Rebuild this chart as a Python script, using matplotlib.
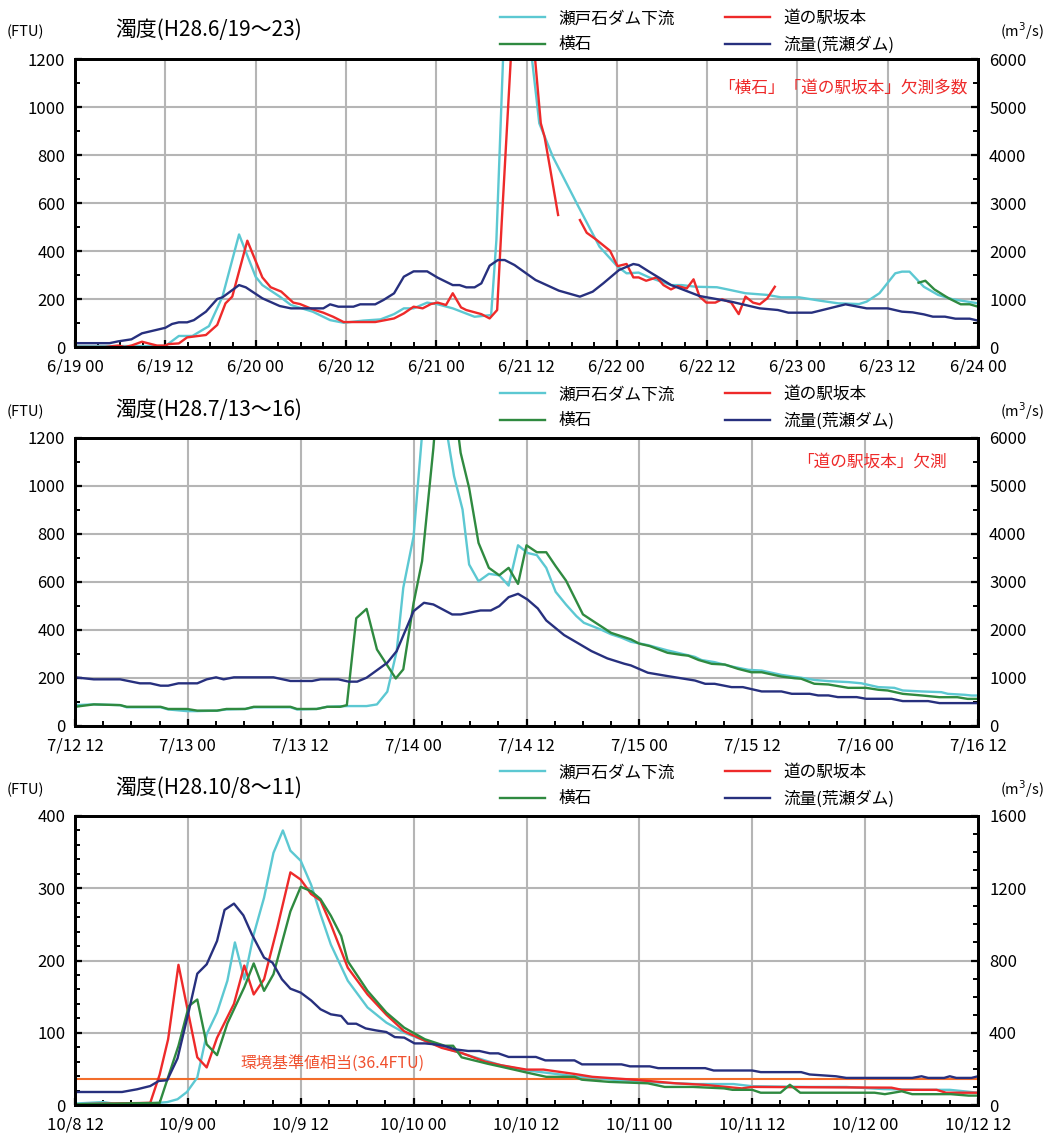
import numpy as np
import matplotlib
matplotlib.use('Agg')
import matplotlib.pyplot as plt
from matplotlib.lines import Line2D
from matplotlib.ticker import MultipleLocator, FixedLocator
from matplotlib import font_manager

# ---------------- data ----------------
nan = np.nan
# Panel 1 : H28.6/19-23 (hours from 6/19 00)
p1_xlabels = ["6/19 00", "6/19 12", "6/20 00", "6/20 12", "6/21 00", "6/21 12",
              "6/22 00", "6/22 12", "6/23 00", "6/23 12", "6/24 00"]
p1_flow_h = [0, 4.6, 5.75, 7.5, 8.9, 12, 12.9, 13.8, 14.9, 15.8, 17.4, 18.9, 19.6, 21.8, 22.7, 24.9,
             27.2, 28.7, 33, 33.9, 35, 37, 37.9, 39.9, 41, 42.4, 43.7, 45, 46.8, 48.2, 50.2, 51.1,
             52, 53.1, 54, 55.1, 56.2, 57.1, 58.4, 61.2, 64.3, 67.1, 68.8, 70.2, 72.3, 74.2, 74.9,
             76.3, 79.2, 83, 87.2, 91, 93.4, 94.8, 97.9, 102.4, 105.2, 108, 109.9, 111.3, 112.8,
             114, 115.6, 117, 118.9, 120]
p1_flow = [80, 80, 118, 160, 285, 400, 480, 514, 514, 560, 736, 1000, 1035, 1290, 1243, 1014,
           854, 805, 805, 889, 840, 840, 889, 889, 980, 1118, 1465, 1576, 1576, 1444, 1290, 1290,
           1243, 1243, 1326, 1694, 1812, 1812, 1708, 1396, 1174, 1049, 1153, 1326, 1604, 1729, 1708,
           1569, 1292, 1062, 944, 805, 771, 715, 715, 889, 805, 805, 736, 722, 680,
           632, 632, 590, 590, 549]
p1_cyan_h = [0, 12, 13.8, 15.6, 17.8, 19.6, 21.8, 24, 24.9, 27.2, 28.7, 31.6, 33.9, 35.7, 38.3,
             40.6, 42.4, 43.7, 45, 46.8, 48.2, 50.2, 53.1, 55.3, 56, 57, 58, 59, 60, 61.7, 63.5,
             66.9, 69.7, 72.1, 73.3, 74.9, 76.3, 79.2, 80.6, 82.5, 85.3, 86.7, 89.1, 92, 93.8,
             96.2, 99, 101.4, 104.2, 105.2, 106.9, 109, 109.9, 110.9, 112.8, 114.7, 116.6, 120]
p1_cyan = [4, 4, 46, 46, 87, 210, 469, 293, 258, 210, 175, 147, 112, 101, 110,
           115, 137, 161, 161, 185, 178, 161, 126, 133, 446, 1300, 1800, 1700, 1400, 932, 793,
           585, 418, 335, 307, 310, 290, 258, 258, 251, 249, 240, 224, 217, 207,
           207, 193, 182, 179, 189, 224, 307, 314, 314, 251, 217, 199, 182]
p1_red_h = [0, 4, 5.75, 6.6, 7.5, 8.9, 10.9, 12, 12.4, 13.8, 14.9, 17.4, 18.9, 20, 20.9, 22.9,
            24.9, 26, 27.4, 29, 29.9, 31.6, 33, 34.3, 35.7, 39.9, 42.4, 43.7, 45, 46.2, 47.3,
            48.2, 49.3, 50.2, 51.3, 52, 54, 55.1, 56.1, 56.7, 58, 59, 60, 61, 61.9, 62.4, 63.1,
            64.2, 65.5, 67.1, 68, 69.2, 71.1, 72.1, 73.3, 74.2, 74.9, 75.9, 77.3, 78.2, 79.2,
            80.1, 81.3, 82.2, 83, 83.9, 85.1, 86, 87.2, 88.2, 89.1, 90.1, 91, 92, 93]
p1_red = [0, 0, 6, 0, 6, 22, 6, 6, 12, 15, 40, 50, 92, 182, 210, 443,
          290, 249, 231, 185, 179, 157, 143, 126, 104, 104, 119, 140, 168, 161, 179,
          185, 175, 224, 165, 154, 137, 119, 154, 515, 1250, 1700, 1600, 1250, 932, 876, 751,
          550, nan, 529, 476, 449, 401, 337, 346, 290, 290, 276, 290, 258, 240,
          254, 244, 282, 210, 185, 185, 199, 185, 137, 210, 185, 178, 203, 251]
p1_green_h = [112.1, 113, 114.2, 116.1, 117.7, 118.9, 120]
p1_green = [268, 276, 240, 203, 178, 178, 168]

# Panel 2 : H28.7/13-16 (hours from 7/12 12)
p2_xlabels = ["7/12 12", "7/13 00", "7/13 12", "7/14 00", "7/14 12",
              "7/15 00", "7/15 12", "7/16 00", "7/16 12"]
p2_flow_h = [0, 2, 4.8, 6.9, 8, 9.1, 9.9, 11, 13, 14, 15, 15.8, 16.9, 21.1, 22.9, 25.2, 26.1, 28,
             29.1, 30, 31, 33.2, 34.2, 36, 37.1, 38.1, 40.1, 41, 43.1, 44.2, 45.1, 46.1, 47.1,
             48.1, 49.2, 50.1, 52, 53.4, 54.9, 56.6, 58.4, 59.1, 60.9, 63, 65.9, 67, 68, 69.8,
             71, 73, 75.1, 76.2, 78.1, 79, 80.1, 81.1, 83.1, 84.1, 86.8, 88, 90.7, 91.9, 96]
p2_flow = [1014, 972, 972, 889, 889, 840, 840, 889, 889, 972, 1014, 972, 1014, 1014, 938, 938, 972,
           972, 924, 924, 1006, 1318, 1561, 2393, 2567, 2532, 2324, 2324, 2407, 2407, 2497, 2684,
           2754, 2636, 2449, 2199, 1894, 1734, 1561, 1408, 1297, 1262, 1110, 1040, 948, 879, 879,
           810, 810, 720, 720, 671, 671, 637, 637, 602, 602, 567, 567, 519, 519, 477, 477]
p2_cyan_h = [0, 2, 4.8, 5.5, 9.1, 9.9, 11.9, 13, 15.1, 16.1, 18.1, 19, 22.9, 23.6, 25.7, 26.8,
             28.9, 31, 32.1, 33.2, 34.2, 34.9, 36, 37.5, 39, 40.3, 41.2, 41.9, 42.9, 44, 45.1,
             46.1, 47.1, 48.1, 49.1, 50.1, 51.1, 52.2, 53.3, 54.1, 55.9, 57, 58.1, 59.1, 60.9,
             63, 64.5, 65.9, 66.6, 68, 69.8, 71.6, 73, 75.1, 77.2, 78.6, 80.1, 82.2, 83.6, 85.4,
             87.1, 88, 90, 92.1, 92.8, 94.6, 95.3, 96]
p2_cyan = [87, 90, 87, 78, 78, 69, 62, 62, 64, 69, 71, 78, 78, 69, 71, 80,
           83, 83, 90, 143, 312, 576, 791, 1500, 1350, 1041, 902, 673, 603, 634, 628,
           585, 753, 721, 712, 659, 559, 506, 458, 430, 402, 382, 368, 351, 337,
           315, 301, 288, 275, 266, 248, 234, 231, 213, 201, 192, 187, 183, 178, 162,
           159, 148, 144, 141, 134, 130, 127, 127]
p2_green_h = [0, 2, 4.8, 5.5, 9.1, 9.9, 11.9, 13, 15.1, 16.1, 18.1, 19, 22.9, 23.6, 25.7, 26.8,
              28.2, 28.9, 29.9, 31, 32.1, 34.1, 34.9, 36, 36.9, 38.1, 39, 40, 41, 41.9, 42.9,
              44, 45.1, 46.1, 47.1, 48, 49.1, 50.1, 51.1, 52.2, 54, 55.2, 57, 59.1, 60, 61.1,
              63, 64.5, 65.2, 66.3, 67.7, 69.1, 70.5, 71.9, 73, 75.1, 76.5, 77.2, 78.6, 80.1,
              82.2, 84.1, 85.4, 86.4, 88, 89.2, 90.1, 91.9, 93.8, 94.9, 96]
p2_green = [80, 90, 87, 80, 80, 71, 71, 64, 64, 71, 71, 80, 80, 71, 71, 80,
            80, 87, 449, 488, 319, 198, 236, 513, 687, 1158, 1600, 1450, 1138, 992, 763,
            659, 628, 659, 592, 753, 724, 724, 666, 606, 465, 434, 388, 361, 343, 333,
            305, 296, 293, 275, 259, 256, 238, 224, 224, 206, 199, 197, 176, 173,
            159, 159, 151, 148, 134, 130, 127, 120, 120, 113, 113]

# Panel 3 : H28.10/8-11 (hours from 10/8 12)
p3_xlabels = ["10/8 12", "10/9 00", "10/9 12", "10/10 00", "10/10 12",
              "10/11 00", "10/11 12", "10/12 00", "10/12 12"]
p3_flow_h = [0, 5, 6.6, 8, 8.9, 9.8, 10.9, 12.1, 13, 14, 15.1, 15.9, 16.9, 17.9, 18.8, 20.1, 21,
             22, 22.9, 24, 25.1, 26.1, 27.2, 28.3, 29, 29.9, 30.9, 32, 33.1, 34, 35, 36.1, 37.2,
             38.2, 39.3, 40.4, 41.8, 43, 44.1, 45, 46.1, 49, 50, 53.1, 53.9, 58.1, 59, 61.1, 62,
             67, 67.9, 72, 72.9, 77.2, 78.1, 80.9, 82, 89, 90, 90.7, 92.4, 93, 93.7, 95.3, 96]
p3_flow = [72, 72, 87, 105, 133, 137, 258, 520, 727, 779, 908, 1080, 1115, 1050, 945, 816, 788,
           696, 644, 622, 579, 530, 502, 493, 450, 450, 424, 413, 404, 376, 373, 341, 341,
           336, 327, 308, 299, 299, 286, 286, 266, 266, 247, 247, 225, 225, 214, 214, 204,
           204, 191, 191, 182, 182, 169, 159, 150, 150, 159, 150, 150, 159, 150, 150, 159]
p3_cyan_h = [0, 3, 4.1, 8, 9.8, 10.9, 11.9, 13, 14, 15.1, 16.2, 17, 18, 19, 20.1, 21.1, 22.1,
             22.9, 24, 25.1, 26.1, 27.2, 29, 31.1, 33.1, 35, 36, 39, 42, 45.3, 48, 53, 58, 62,
             66, 70, 72, 78, 82, 86, 90, 93, 96]
p3_cyan = [2, 4, 2, 2, 4, 8, 18, 38, 98, 128, 172, 225, 174, 236, 287, 349, 380,
           352, 338, 305, 264, 222, 172, 135, 114, 100, 95, 80, 68, 55, 48, 40, 34, 31,
           29, 29, 26, 25, 25, 22, 21, 21, 17]
p3_red_h = [0, 8, 9, 9.9, 11, 13, 14, 15.1, 16.9, 18, 19, 20.1, 21.5, 22.9, 24, 25.1, 26.1, 27.2,
            29, 31.1, 33.1, 35, 37.2, 39, 41.1, 43.6, 45.3, 48, 49.8, 53.1, 55, 59.4, 63.9, 66.8,
            70.9, 72, 86.8, 87.9, 91.6, 92.6, 96]
p3_red = [1, 3, 42, 91, 194, 66, 52, 93, 140, 193, 153, 174, 245, 322, 312, 292, 283, 250,
          190, 153, 125, 102, 89, 79, 72, 60, 55, 49, 49, 43, 39, 35, 30, 28,
          23, 25, 24, 21, 21, 17, 17]
p3_green_h = [0, 9, 11, 12.1, 13, 14, 15.1, 16.2, 18, 19, 20.1, 21.1, 22.9, 24, 25.1, 26.1, 27.2,
              28.3, 29, 31.1, 33.1, 35, 37.2, 39.3, 40.2, 41.1, 43.9, 45.3, 48, 50.1, 53.1, 53.9,
              56.8, 60.9, 62.7, 65.7, 69, 69.9, 72, 72.9, 75, 76, 77.1, 85, 86.1, 87.9, 89, 93.1,
              95, 96]
p3_green = [1, 3, 82, 137, 146, 84, 69, 113, 163, 196, 158, 181, 268, 302, 296, 285, 262,
            234, 199, 158, 128, 107, 91, 82, 82, 66, 57, 53, 45, 39, 39, 35,
            32, 30, 25, 25, 23, 21, 21, 17, 17, 28, 17, 17, 15, 19, 15, 15,
            13, 13]
p3_standard = 36.4

titles = ["濁度(H28.6/19～23)", "濁度(H28.7/13～16)", "濁度(H28.10/8～11)"]
legend_labels = ["瀬戸石ダム下流", "横石", "道の駅坂本", "流量(荒瀬ダム)"]
notes = ["「横石」「道の駅坂本」欠測多数", "「道の駅坂本」欠測", "環境基準値相当(36.4FTU)"]

# ---------------- style ----------------
W, H = 1047, 1135
fig = plt.figure(figsize=(W / 100, H / 100), dpi=100)
installed = {f.name for f in font_manager.fontManager.ttflist}
FONT = [f for f in ['Liberation Sans Narrow', 'Noto Sans CJK JP', 'DejaVu Sans'] if f in installed]
plt.rcParams['font.family'] = FONT

C_CYAN = '#5cc8d2'
C_RED = '#ee2a2a'
C_GREEN = '#2f8a40'
C_NAVY = '#27307e'
C_ORANGE = '#f26d2b'
C_NOTE3 = '#f0502e'
C_GRID = '#b5b5b5'
LW = 1.7


def fx(px):
    return px / W


def fy(py):
    return 1 - py / H


def make_panel(top, height, xlabels, xmax, ymax, ymaj, ymin, rmax, rmaj, rmin):
    ax = fig.add_axes([fx(75), fy(top + height), fx(903), height / H])
    ax.set_xlim(0, xmax)
    ax.set_ylim(0, ymax)
    ax.xaxis.set_major_locator(FixedLocator(np.arange(0, xmax + 1, 12)))
    ax.set_xticklabels(xlabels)
    ax.xaxis.set_minor_locator(MultipleLocator(3))
    ax.yaxis.set_major_locator(MultipleLocator(ymaj))
    ax.yaxis.set_minor_locator(MultipleLocator(ymin))
    ax.grid(True, which='major', color=C_GRID, lw=1.5)
    ax.set_axisbelow(True)
    axr = ax.twinx()
    axr.set_ylim(0, rmax)
    axr.yaxis.set_major_locator(MultipleLocator(rmaj))
    axr.yaxis.set_minor_locator(MultipleLocator(rmin))
    for a in (ax, axr):
        for s in a.spines.values():
            s.set_linewidth(2.0)
            s.set_color('black')
        a.tick_params(which='major', direction='in', length=5, width=1.6, labelsize=12)
        a.tick_params(which='minor', direction='in', length=3.5, width=1.4)
    ax.tick_params(axis='x', pad=8)
    ax.tick_params(axis='y', pad=7)
    axr.tick_params(axis='y', pad=8)
    return ax, axr


def header(ax, title, ytitle, ylegend):
    fig.text(fx(115), fy(ytitle), title, fontsize=15, ha='left', va='center')
    fig.text(fx(25), fy(ytitle + 2), "(FTU)", fontsize=10.5, ha='center', va='center')
    fig.text(fx(1022), fy(ytitle + 1), "(m$^{3}$/s)", fontsize=10.5, ha='center', va='center')
    handles = [Line2D([], [], color=C_CYAN, lw=LW), Line2D([], [], color=C_GREEN, lw=LW),
               Line2D([], [], color=C_RED, lw=LW), Line2D([], [], color=C_NAVY, lw=LW)]
    fig.legend(handles, legend_labels, ncol=2, loc='center',
               bbox_to_anchor=(fx(697), fy(ylegend + 1)), frameon=False, fontsize=12,
               handlelength=2.7, handletextpad=0.8, columnspacing=3.0, labelspacing=0.55,
               borderpad=0, borderaxespad=0)


# Panel 1
ax1, ax1r = make_panel(59, 288, p1_xlabels, 120, 1200, 200, 100, 6000, 1000, 500)
ax1.plot(p1_cyan_h, p1_cyan, color=C_CYAN, lw=LW)
ax1.plot(p1_green_h, p1_green, color=C_GREEN, lw=LW)
ax1.plot(p1_red_h, p1_red, color=C_RED, lw=LW)
ax1r.plot(p1_flow_h, p1_flow, color=C_NAVY, lw=LW)
header(ax1, titles[0], 30, 31)
fig.text(fx(843), fy(88), notes[0], fontsize=12, color=C_RED, ha='center', va='center')

# Panel 2
ax2, ax2r = make_panel(438, 288, p2_xlabels, 96, 1200, 200, 100, 6000, 1000, 500)
ax2.plot(p2_cyan_h, p2_cyan, color=C_CYAN, lw=LW)
ax2.plot(p2_green_h, p2_green, color=C_GREEN, lw=LW)
ax2r.plot(p2_flow_h, p2_flow, color=C_NAVY, lw=LW)
header(ax2, titles[1], 410, 407)
fig.text(fx(872), fy(462), notes[1], fontsize=12, color=C_RED, ha='center', va='center')

# Panel 3
ax3, ax3r = make_panel(816, 289, p3_xlabels, 96, 400, 100, 20, 1600, 400, 100)
ax3.axhline(p3_standard, color=C_ORANGE, lw=1.5)
ax3.plot(p3_cyan_h, p3_cyan, color=C_CYAN, lw=LW)
ax3.plot(p3_red_h, p3_red, color=C_RED, lw=LW)
ax3.plot(p3_green_h, p3_green, color=C_GREEN, lw=LW)
ax3r.plot(p3_flow_h, p3_flow, color=C_NAVY, lw=LW)
header(ax3, titles[2], 788, 785)
fig.text(fx(240), fy(1063), notes[2], fontsize=11.5, color=C_NOTE3, ha='left', va='center')

fig.savefig('out.png', dpi=100)
